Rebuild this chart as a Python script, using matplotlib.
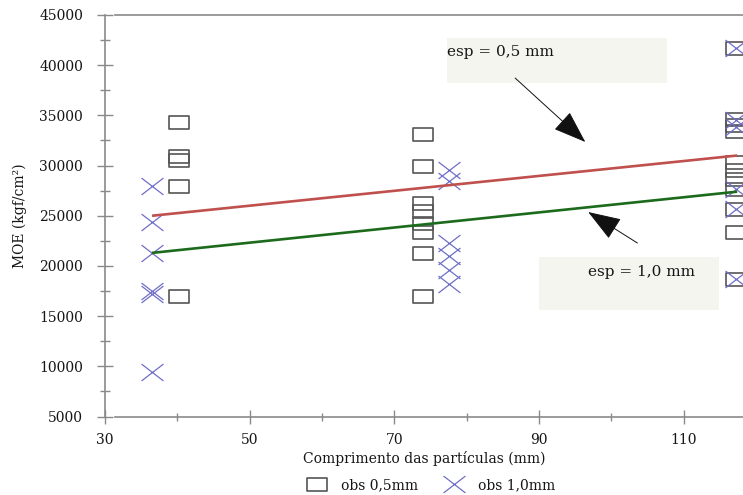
import matplotlib
matplotlib.use("Agg")
import matplotlib.pyplot as plt
from matplotlib.path import Path
from matplotlib.lines import Line2D
from matplotlib.patches import Rectangle

# ---------------- data ----------------
x_sq = [40.2, 40.2, 40.2, 40.2, 40.2,
        73.9, 73.9, 73.9, 73.9, 73.9, 73.9, 73.9, 73.9,
        117.2, 117.2, 117.2, 117.2, 117.2, 117.2, 117.2, 117.2, 117.2, 117.2, 117.2]
y_sq = [34300, 31000, 30600, 28000, 17000,
        33100, 30000, 26300, 25500, 24300, 23400, 21300, 17000,
        41700, 34600, 34000, 33400, 30400, 29600, 28700, 27700, 25700, 23400, 18700]

x_x = [36.5, 36.5, 36.5, 36.5, 36.5, 36.5,
       77.6, 77.6, 77.6, 77.6, 77.6, 77.6,
       117.2, 117.2, 117.2, 117.2, 117.2, 117.2]
y_x = [28000, 24400, 21300, 17500, 17200, 9400,
       29600, 28500, 22300, 21000, 19600, 18200,
       41700, 34500, 33800, 27700, 25700, 18700]

line_x = [36.5, 117.4]
line_05 = [25000, 31000]   # esp = 0,5 mm
line_10 = [21300, 27400]   # esp = 1,0 mm

xticks = [30, 50, 70, 90, 110]
yticks = [5000, 10000, 15000, 20000, 25000, 30000, 35000, 40000, 45000]

# ---------------- style ----------------
FONT = "DejaVu Serif"
TXT = "#151515"
AX = "#8a8a8a"

rect_marker = Path([(-1, -0.65), (1, -0.65), (1, 0.65), (-1, 0.65), (-1, -0.65)],
                   [Path.MOVETO, Path.LINETO, Path.LINETO, Path.LINETO, Path.CLOSEPOLY])
cross_marker = Path([(-1, -0.77), (1, 0.77), (-1, 0.77), (1, -0.77)],
                    [Path.MOVETO, Path.LINETO, Path.MOVETO, Path.LINETO])

fig = plt.figure(figsize=(7.43, 4.95), dpi=100)
ax = fig.add_axes([105 / 743, 1 - 416.5 / 495, 1 - 105 / 743, (416.5 - 15) / 495])
ax.set_xlim(30, 118.2)
ax.set_ylim(5000, 45000)

sq_style = dict(marker=rect_marker, markersize=14.4, mfc="none", mec="#555555", mew=1.2, ls="none")
x_style = dict(marker=cross_marker, markersize=15.8, mfc="none", mec="#6f6fc8", mew=0.9, ls="none")

ax.plot(x_sq, y_sq, **sq_style, zorder=3)
ax.plot(x_x, y_x, **x_style, zorder=3)
ax.plot(line_x, line_05, color="#c0504d", lw=1.9, zorder=4, solid_capstyle="butt")
ax.plot(line_x, line_10, color="#1c6b1c", lw=1.9, zorder=4, solid_capstyle="butt")

# spines
for s in ["left", "bottom", "top"]:
    ax.spines[s].set_color(AX)
    ax.spines[s].set_linewidth(1.2)
ax.spines["right"].set_visible(False)
ax.spines["bottom"].set_bounds(31.4, 118.2)
ax.spines["top"].set_bounds(31.4, 118.2)

ax.set_xticks(xticks)
ax.set_yticks(yticks)
ax.set_xticks([40, 60, 80, 100], minor=True)
ax.set_yticks([7500, 12500, 17500, 22500, 27500, 32500, 37500, 42500], minor=True)
ax.tick_params(axis="y", which="major", direction="inout", length=11.5, width=1.0, color=AX,
               pad=10, labelsize=10, labelcolor=TXT)
ax.tick_params(axis="y", which="minor", direction="inout", length=7, width=1.0, color=AX)
ax.tick_params(axis="x", which="major", direction="inout", length=9.4, width=1.0, color=AX,
               pad=7, labelsize=10, labelcolor=TXT)
ax.tick_params(axis="x", which="minor", direction="inout", length=6, width=1.0, color=AX)
for lab in ax.get_xticklabels() + ax.get_yticklabels():
    lab.set_family(FONT)

ax.set_xlabel("Comprimento das partículas (mm)", family=FONT, fontsize=10, color=TXT, labelpad=3)
ax.set_ylabel("MOE (kgf/cm²)", family=FONT, fontsize=10, color=TXT, labelpad=9)

# annotation boxes
box_col = "#f4f5ef"
ax.add_patch(Rectangle((77.3, 38225), 30.4, 4485, facecolor=box_col, edgecolor="none", zorder=1))
ax.add_patch(Rectangle((90.0, 15610), 24.9, 5280, facecolor=box_col, edgecolor="none", zorder=1))
ax.text(77.3, 41310, "esp = 0,5 mm", family=FONT, fontsize=11, color=TXT, va="center", ha="left", zorder=2)
ax.text(96.8, 19400, "esp = 1,0 mm", family=FONT, fontsize=11, color=TXT, va="center", ha="left", zorder=2)

arrow = dict(arrowstyle="-|>,head_length=2.1,head_width=0.75", color="#111111", lw=0.7,
             shrinkA=0, shrinkB=0)
ax.annotate("", xy=(96.4, 32350), xytext=(86.7, 38720), arrowprops=arrow, zorder=5)
ax.annotate("", xy=(96.8, 25370), xytext=(103.6, 22285), arrowprops=arrow, zorder=5)

# legend
h1 = Line2D([], [], **sq_style)
h2 = Line2D([], [], **x_style)
fig.legend([h1, h2], ["obs 0,5mm", "obs 1,0mm"], loc="center",
           bbox_to_anchor=(431 / 743, 1 - 485 / 495), ncol=2, frameon=False,
           prop={"family": FONT, "size": 10}, handlelength=1.5, handletextpad=1.0,
           columnspacing=1.8, borderpad=0, labelcolor=TXT)

fig.savefig("out.png", dpi=100)
